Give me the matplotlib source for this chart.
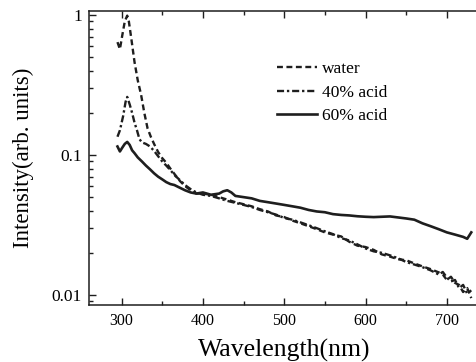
import matplotlib
matplotlib.use('Agg')
import matplotlib.pyplot as plt
from matplotlib.ticker import LogLocator, NullFormatter, FixedLocator, FixedFormatter

plt.rcParams['font.family'] = ['Liberation Serif', 'DejaVu Serif']

# water (dashed)
wl_water = [295, 298, 301, 304, 307, 309, 312, 316, 320, 324, 328, 332, 336, 340, 345,
            350, 355, 360, 366, 372, 378, 385, 392, 400, 410, 420, 430, 440, 450, 460,
            470, 480, 490, 500, 510, 520, 530, 540, 550, 560, 570, 580, 590, 600, 610,
            620, 630, 640, 650, 660, 670, 680, 690, 695, 700, 705, 710, 715, 720, 725, 730]
i_water = [0.64, 0.57, 0.72, 0.90, 0.99, 0.90, 0.68, 0.46, 0.34, 0.27, 0.20, 0.155, 0.135, 0.12, 0.105,
           0.095, 0.088, 0.080, 0.072, 0.065, 0.060, 0.056, 0.053, 0.053, 0.052, 0.050, 0.048, 0.046, 0.0445, 0.043,
           0.041, 0.0395, 0.037, 0.036, 0.034, 0.0325, 0.031, 0.0295, 0.028, 0.027, 0.0262, 0.024, 0.0225, 0.022, 0.021,
           0.0195, 0.0188, 0.018, 0.0177, 0.0168, 0.016, 0.0153, 0.0145, 0.014, 0.0128, 0.0135, 0.0122, 0.0118, 0.0105, 0.0112, 0.0095]

# 40% acid (dash-dot)
wl_40 = [295, 298, 302, 305, 307, 310, 313, 316, 319, 322, 325, 330, 335, 340, 345,
         350, 355, 360, 366, 372, 378, 385, 392, 400, 410, 420, 430, 440, 450, 460,
         470, 480, 490, 500, 510, 520, 530, 540, 550, 560, 570, 580, 590, 600, 610,
         620, 630, 640, 650, 660, 670, 680, 690, 695, 700, 705, 710, 715, 720, 725, 730]
i_40 = [0.135, 0.15, 0.19, 0.24, 0.26, 0.23, 0.20, 0.17, 0.15, 0.13, 0.123, 0.12, 0.115, 0.107, 0.098,
        0.090, 0.084, 0.078, 0.071, 0.066, 0.061, 0.057, 0.054, 0.052, 0.051, 0.049, 0.047, 0.0455, 0.044, 0.0425,
        0.0405, 0.039, 0.0375, 0.0355, 0.0345, 0.033, 0.0315, 0.030, 0.0285, 0.0272, 0.0255, 0.0245, 0.023, 0.0215, 0.0205,
        0.020, 0.0192, 0.0183, 0.0172, 0.0165, 0.0158, 0.0150, 0.0140, 0.0146, 0.0133, 0.0125, 0.0128, 0.0112, 0.0118, 0.0102, 0.0108]

# 60% acid (solid)
wl_60 = [295, 298, 301, 304, 307, 310, 313, 316, 320, 325, 330, 335, 340, 345, 350,
         355, 360, 365, 370, 378, 385, 392, 400, 410, 420, 425, 430, 435, 440, 450,
         460, 470, 480, 490, 500, 510, 520, 530, 540, 550, 560, 570, 580, 590, 600,
         610, 620, 630, 640, 650, 660, 670, 680, 690, 700, 710, 720, 725, 730]
i_60 = [0.115, 0.106, 0.113, 0.12, 0.124, 0.118, 0.108, 0.103, 0.096, 0.09, 0.084, 0.079, 0.074, 0.07, 0.067,
        0.064, 0.062, 0.061, 0.059, 0.056, 0.054, 0.053, 0.054, 0.052, 0.053, 0.055, 0.056, 0.054, 0.051, 0.050,
        0.049, 0.047, 0.046, 0.045, 0.044, 0.043, 0.042, 0.0405, 0.0395, 0.039, 0.0378, 0.0373, 0.037, 0.0365, 0.0362,
        0.036, 0.0362, 0.0364, 0.0358, 0.0352, 0.0345, 0.0325, 0.031, 0.0295, 0.028, 0.027, 0.026, 0.0252, 0.028]

xticks = [300, 400, 500, 600, 700]
yticks = [0.01, 0.1, 1]
ytick_labels = ['0.01', '0.1', '1']

col = '#1e1e1e'

fig = plt.figure(figsize=(4.77, 3.62), dpi=100)
ax = fig.add_axes([89/477, 1-305/362, 390.4/477, 294/362])

ax.plot(wl_water, i_water, color=col, lw=1.7, linestyle=(0, (2.5, 1.5)), label='water')
ax.plot(wl_40, i_40, color=col, lw=1.7, linestyle=(0, (3, 1.2, 1, 1.2)), label='40% acid')
ax.plot(wl_60, i_60, color=col, lw=1.9, linestyle='-', label='60% acid')

ax.set_yscale('log')
ax.set_xlim(260, 740)
ax.set_ylim(0.00848, 1.068)

ax.xaxis.set_major_locator(FixedLocator(xticks))
ax.xaxis.set_minor_locator(FixedLocator([350, 450, 550, 650]))
ax.yaxis.set_major_locator(FixedLocator(yticks))
ax.yaxis.set_major_formatter(FixedFormatter(ytick_labels))
ax.yaxis.set_minor_locator(LogLocator(base=10, subs=range(2, 10)))
ax.yaxis.set_minor_formatter(NullFormatter())

ax.tick_params(which='both', direction='in', top=True, right=False, color=col, width=1.0)
ax.tick_params(which='major', length=5)
ax.tick_params(which='minor', length=3)
ax.tick_params(axis='x', labelsize=11.5, pad=6)
ax.tick_params(axis='y', labelsize=12.5, pad=5)

for s in ['left', 'top', 'bottom']:
    ax.spines[s].set_linewidth(1.1)
    ax.spines[s].set_color(col)
ax.spines['right'].set_visible(False)

ax.set_xlabel('Wavelength(nm)', fontsize=18.5, labelpad=7)
ax.set_ylabel('Intensity(arb. units)', fontsize=16.5, labelpad=13)

ax.legend(loc='upper left', bbox_to_anchor=(0.481, 0.83), frameon=False,
          fontsize=12.5, handlelength=2.3, handletextpad=0.3, labelspacing=0.42,
          borderpad=0, borderaxespad=0)

fig.savefig('out.png', dpi=100)
